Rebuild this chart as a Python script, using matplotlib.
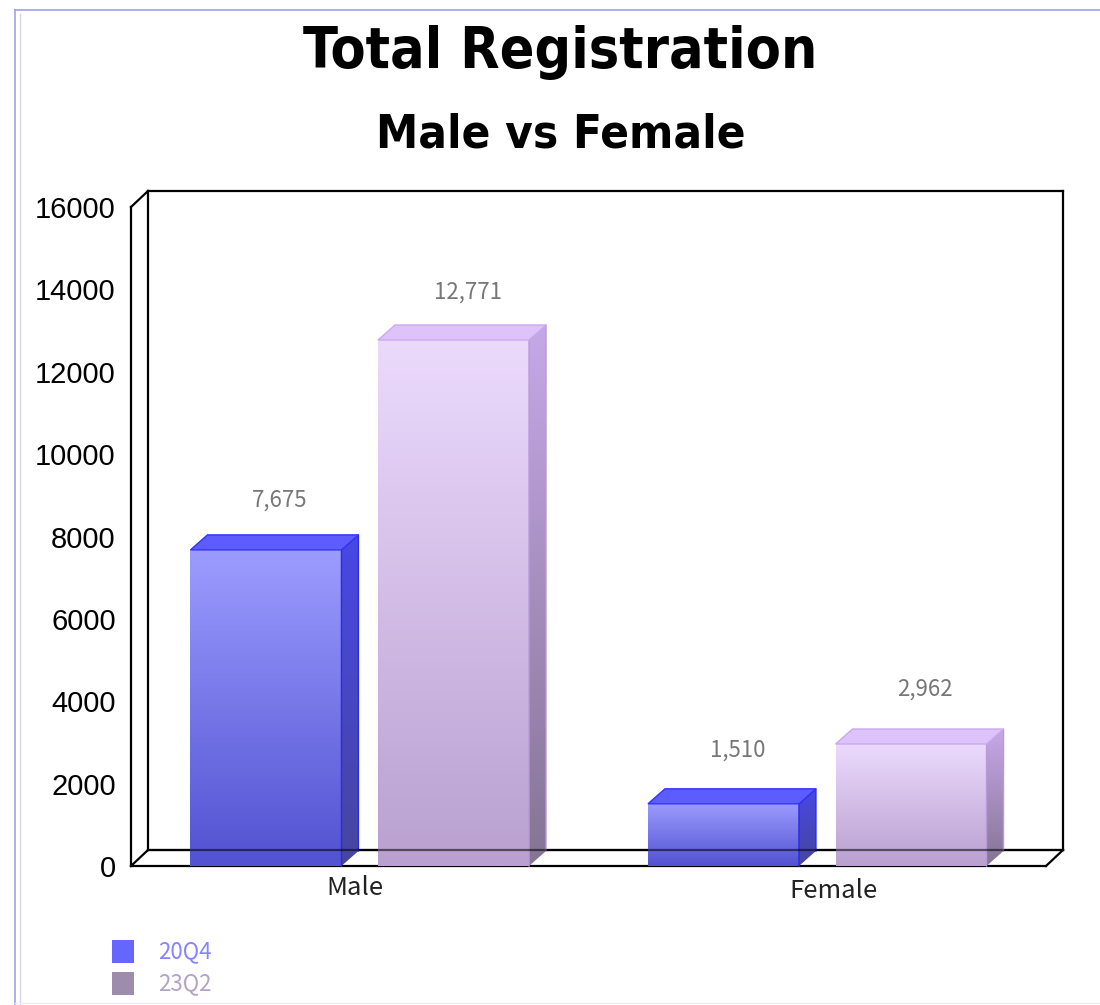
import numpy as np
import matplotlib
matplotlib.use('Agg')
import matplotlib.pyplot as plt
from matplotlib.patches import Polygon, Rectangle
from matplotlib.colors import to_rgb
from matplotlib.lines import Line2D
import matplotlib.transforms as mtransforms
from matplotlib import font_manager

# ---------------- data ----------------
categories = ['Male', 'Female']
series_names = ['20Q4', '23Q2']
values_20q4 = [7675, 1510]
values_23q2 = [12771, 2962]
y_ticks = [0, 2000, 4000, 6000, 8000, 10000, 12000, 14000, 16000]
title_text = 'Total Registration'
subtitle_text = 'Male vs Female'

# ---------------- styles ----------------
available = {f.name for f in font_manager.fontManager.ttflist}
if 'Liberation Sans Narrow' in available:
    title_font = dict(family=['Liberation Sans Narrow', 'DejaVu Sans'], weight='bold')
    t_size, s_size = 48.5, 40
else:
    title_font = dict(family=['DejaVu Sans'], weight='bold', stretch='condensed')
    t_size, s_size = 41, 34
jp_font = ['Noto Sans CJK JP', 'DejaVu Sans']
arial = ['Liberation Sans', 'DejaVu Sans']

styles = {
    '20Q4': dict(front=('#9c9cff', '#5252d2'), top='#5c5cff', top_edge='#3434f2',
                 side=('#4848e6', '#46469e'), edge='#2a2ae8', legend='#6666ff', text='#8585ff'),
    '23Q2': dict(front=('#ecdafd', '#b9a0d0'), top='#ddc3fa', top_edge='#caa9f0',
                 side=('#c6a8e8', '#857494'), edge='#b89ad8', legend='#9d8cab', text='#b3a3c6'),
}

W, H = 1100, 1005
fig = plt.figure(figsize=(W / 100, H / 100), dpi=100)
fig.patch.set_facecolor('white')

# axes (front plane)
L, R, T, B = 131, 1046, 207, 866
ax = fig.add_axes([L / W, 1 - B / H, (R - L) / W, (B - T) / H])
ax.set_xlim(-0.5, 1.5)
ax.set_ylim(0, 16000)
ax.patch.set_visible(False)
for s in ax.spines.values():
    s.set_visible(False)

DXPX, DYPX = 17, 16
ox = DXPX / (R - L)
oy = DYPX / (B - T)
px_per_x = (R - L) / 2.0
px_per_y = (B - T) / 16000.0
ddx = DXPX / px_per_x
ddy = 15 / px_per_y

# box lines
lw = 1.6
def aline(xs, ys, z=1, **kw):
    ax.add_line(Line2D(xs, ys, transform=ax.transAxes, color='black', lw=lw,
                       clip_on=False, zorder=z, solid_capstyle='projecting', **kw))

aline([0, 0], [0, 1])                  # front left
aline([0, 1], [0, 0])                  # front floor
aline([0, ox], [1, 1 + oy])            # top-left diagonal
aline([0, ox], [0, oy])                # floor left diagonal
aline([1, 1 + ox], [0, oy])            # floor right diagonal
aline([ox, ox], [oy, 1 + oy])          # back left
aline([ox, 1 + ox], [1 + oy, 1 + oy])  # back top
aline([1 + ox, 1 + ox], [oy, 1 + oy])  # back right
aline([ox, 1 + ox], [oy, oy])          # back floor
aline([ox, 1 + ox], [oy, oy], z=5, alpha=0.55)  # back floor seen through bars


def grad_img(c_top, c_bot, n=256):
    t = np.linspace(0, 1, n)[:, None]
    a = np.array(to_rgb(c_top))
    b = np.array(to_rgb(c_bot))
    img = a[None, None, :] * (1 - t[..., None]) + b[None, None, :] * t[..., None]
    return img


bar_w = 0.33
offsets = [-0.205, 0.205]
all_values = [values_20q4, values_23q2]
label_dy = {(0, 0): 25, (1, 0): 24, (0, 1): 28, (1, 1): 29}

for si, (name, vals) in enumerate(zip(series_names, all_values)):
    st = styles[name]
    for ci, h in enumerate(vals):
        x0 = ci + offsets[si] - bar_w / 2
        x1 = x0 + bar_w
        # front face
        rect = Rectangle((x0, 0), bar_w, h, facecolor='none', edgecolor='none', zorder=3)
        ax.add_patch(rect)
        im = ax.imshow(grad_img(*st['front']), extent=[x0, x1, 0, h], aspect='auto',
                       zorder=3, interpolation='bilinear')
        im.set_clip_path(rect)
        # side face
        side = Polygon([(x1, 0), (x1 + ddx, ddy), (x1 + ddx, h + ddy), (x1, h)],
                       closed=True, facecolor='none', edgecolor='none', zorder=3)
        ax.add_patch(side)
        im2 = ax.imshow(grad_img(*st['side']), extent=[x1, x1 + ddx, 0, h + ddy],
                        aspect='auto', zorder=3, interpolation='bilinear')
        im2.set_clip_path(side)
        ax.plot([x1, x1, x1 + ddx, x1 + ddx], [0, h, h + ddy, ddy], color=st['edge'],
                lw=1.0, zorder=4, clip_on=False)
        # top face
        top = Polygon([(x0, h), (x1, h), (x1 + ddx, h + ddy), (x0 + ddx, h + ddy)],
                      closed=True, facecolor=st['top'], edgecolor=st['top_edge'], lw=1.0,
                      zorder=4, clip_on=False)
        ax.add_patch(top)
        # value label
        ax.annotate(f'{h:,}', xy=((x0 + x1) / 2 + ddx / 2, h + ddy),
                    xytext=(4, label_dy[(si, ci)]),
                    textcoords='offset points', ha='center', va='center',
                    fontsize=16, color='#777777', family=jp_font, zorder=6)

ax.set_xlim(-0.5, 1.5)
ax.set_ylim(0, 16000)

# y ticks
ax.set_yticks(y_ticks)
ax.set_yticklabels([str(v) for v in y_ticks], family=arial, fontsize=21, color='black')
ax.tick_params(axis='y', length=0, pad=11)

# x category labels
ax.set_xticks(range(len(categories)))
ax.set_xticklabels(categories, family=jp_font, fontsize=18.5, color='#222222')
ax.tick_params(axis='x', length=0, pad=6)
for lab, (sx, sy) in zip(ax.get_xticklabels(), [(-5, -1), (16, -4)]):
    lab.set_transform(lab.get_transform() +
                      mtransforms.ScaledTranslation(sx / 100, sy / 100, fig.dpi_scale_trans))

# titles
fig.text(560 / W, 1 - 68 / H, title_text, ha='center', va='baseline', fontsize=t_size,
         color='black', **title_font)
fig.text(561 / W, 1 - 147 / H, subtitle_text, ha='center', va='baseline', fontsize=s_size,
         color='black', **title_font)

# legend
for i, name in enumerate(series_names):
    st = styles[name]
    ytop = 940 + i * 32
    fig.patches.append(Rectangle((112 / W, 1 - (ytop + 23) / H), 22 / W, 23 / H,
                                 transform=fig.transFigure, facecolor=st['legend'],
                                 edgecolor='none'))
    fig.text(158 / W, 1 - (ytop + 11.5) / H, name, ha='left', va='center', fontsize=16,
             color=st['text'], family=jp_font)

# outer border
fig.add_artist(Line2D([15 / W, 15 / W], [0, 1 - 10 / H], transform=fig.transFigure,
                      color='#a0a0f0', lw=1.2))
fig.add_artist(Line2D([20 / W, 20 / W], [0, 1 - 14 / H], transform=fig.transFigure,
                      color='#d8d4e4', lw=1.0))
fig.add_artist(Line2D([15 / W, 1], [1 - 10 / H, 1 - 10 / H], transform=fig.transFigure,
                      color='#a0a0f0', lw=1.2))
fig.add_artist(Line2D([15 / W, 1], [1 - 1003 / H, 1 - 1003 / H], transform=fig.transFigure,
                      color='#ecebf8', lw=1.0))

fig.savefig('out.png', dpi=100)
